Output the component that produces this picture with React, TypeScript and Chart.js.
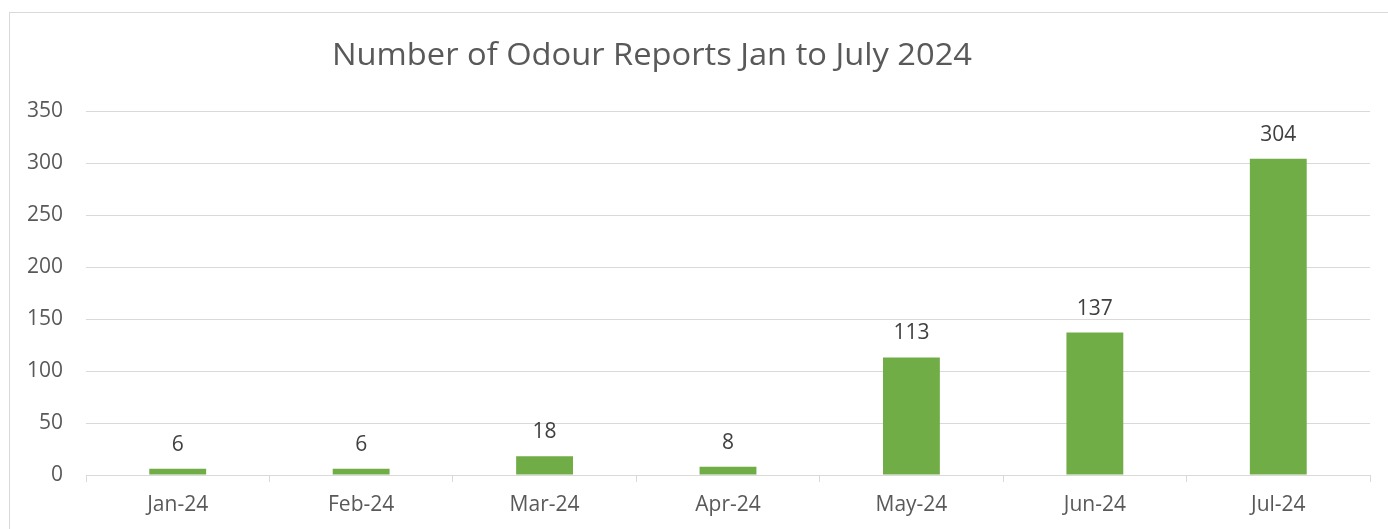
import React, { useEffect, useRef } from "react";
import { Chart, registerables } from "chart.js";

Chart.register(...registerables);

const title = "Number of Odour Reports Jan to July 2024";
const categories = ["Jan-24", "Feb-24", "Mar-24", "Apr-24", "May-24", "Jun-24", "Jul-24"];
const reports = [6, 6, 18, 8, 113, 137, 304];
const yTicks = [0, 50, 100, 150, 200, 250, 300, 350];

const FONT = "'Open Sans', Lato, sans-serif";
const GRID = "#d9d9d9";
const TEXT = "#595959";
const TITLE_WIDTH = 640;

const framePlugin = {
  id: "frame",
  beforeDraw(chart: any) {
    const ctx = chart.ctx;
    ctx.save();
    ctx.fillStyle = "#ffffff";
    ctx.fillRect(0, 0, chart.width, chart.height);
    ctx.strokeStyle = GRID;
    ctx.lineWidth = 1;
    ctx.strokeRect(9.5, 12.5, chart.width + 20, chart.height + 20);
    ctx.restore();
  },
  afterDraw(chart: any) {
    const ctx = chart.ctx;
    ctx.save();
    ctx.fillStyle = TEXT;
    ctx.font = `31px ${FONT}`;
    ctx.textAlign = "center";
    ctx.textBaseline = "middle";
    const w = ctx.measureText(title).width;
    const sx = TITLE_WIDTH / w;
    ctx.translate(652, 56);
    ctx.scale(sx, 1);
    ctx.fillText(title, 0, 0);
    ctx.restore();

    ctx.save();
    const meta = chart.getDatasetMeta(0);
    ctx.fillStyle = "#404040";
    ctx.font = `21px ${FONT}`;
    ctx.textAlign = "center";
    ctx.textBaseline = "alphabetic";
    meta.data.forEach((bar: any, i: number) => {
      ctx.fillText(String(reports[i]), bar.x, bar.y - 18);
    });
    ctx.restore();
  },
};

export default function App() {
  const ref = useRef<HTMLCanvasElement | null>(null);
  useEffect(() => {
    if (!ref.current) return;
    const chart = new Chart(ref.current, {
      type: "bar",
      data: {
        labels: categories,
        datasets: [
          {
            data: reports,
            backgroundColor: "#70AD47",
            borderWidth: 0,
            categoryPercentage: 1,
            barPercentage: 0.31,
          },
        ],
      },
      options: {
        animation: false,
        responsive: false,
        layout: { padding: { top: 111, right: 18, left: 0, bottom: 0 } },
        plugins: {
          legend: { display: false },
          title: { display: false },
          tooltip: { enabled: false },
        },
        scales: {
          x: {
            grid: {
              offset: true,
              drawOnChartArea: false,
              drawTicks: true,
              tickLength: 7,
              color: GRID,
            },
            border: { display: true, color: GRID, width: 1 },
            ticks: { color: TEXT, font: { family: FONT, size: 21 }, padding: 10 },
            afterFit: (s: any) => {
              s.height = 54;
            },
          },
          y: {
            min: 0,
            max: 350,
            afterBuildTicks: (s: any) => {
              s.ticks = yTicks.map((v) => ({ value: v }));
            },
            grid: { color: GRID, drawTicks: false },
            border: { display: false },
            ticks: { color: TEXT, font: { family: FONT, size: 21 }, padding: 23 },
            afterFit: (s: any) => {
              s.width = 86;
            },
          },
        },
      },
      plugins: [framePlugin],
    });
    return () => chart.destroy();
  }, []);
  return (
    <div style={{ position: "fixed", left: 0, top: 0, width: 1388, height: 529, background: "#fff" }}>
      <canvas ref={ref} width={1388} height={529} style={{ width: 1388, height: 529 }} />
    </div>
  );
}
